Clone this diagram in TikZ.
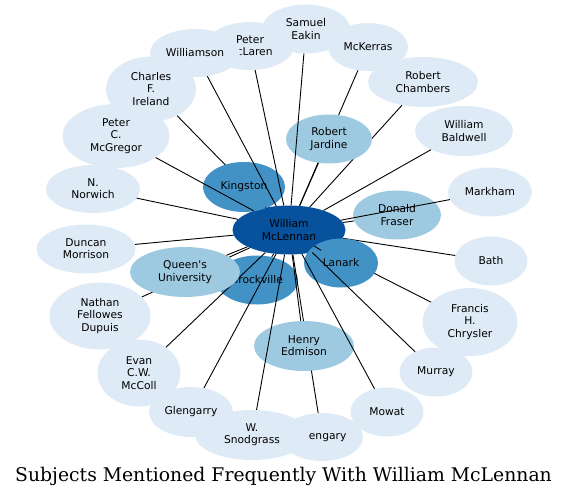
\documentclass[tikz,border=0pt]{standalone}
\usepackage{fontspec}
\usetikzlibrary{shapes.geometric}
\newfontfamily\lblfont{DejaVu Sans}
\newfontfamily\ttlfont{DejaVu Serif}
\definecolor{bdark}{HTML}{08519C}
\definecolor{bmid}{HTML}{4292C6}
\definecolor{blight}{HTML}{9ECAE1}
\definecolor{bpale}{HTML}{DEEBF7}
\tikzset{
  nd/.style={ellipse, inner sep=0pt, align=center, text=black,
    font=\lblfont\fontsize{10.7}{12.3}\selectfont},
  pale/.style={nd, fill=bpale},
  lite/.style={nd, fill=blight},
  mid/.style={nd, fill=bmid},
  hub/.style={nd, fill=bdark},
  sz/.style 2 args={minimum width=#1pt, minimum height=#2pt},
  lnk/.style={draw=black, line width=0.9pt}
}
\begin{document}
\begin{tikzpicture}[x=1pt,y=-1pt]
\useasboundingbox (0,0) rectangle (568,498);
\node[hub, sz={113}{49}] (wm) at (289,230) {William\\McLennan};
\node[pale, sz={73}{49}] (bath) at (491,261) {Bath};
\draw[lnk] (wm) -- (bath);
\node[mid, sz={82}{49}] (brock) at (257,280) {Brockville};
\draw[lnk] (wm) -- (brock);
\node[pale, sz={90}{65}] (charles) at (151,89) {Charles\\F.\\Ireland};
\draw[lnk] (wm) -- (charles);
\node[lite, sz={88}{49}] (donald) at (397,215) {Donald\\Fraser};
\draw[lnk] (wm) -- (donald);
\node[pale, sz={99}{49}] (duncan) at (86,249) {Duncan\\Morrison};
\draw[lnk] (wm) -- (duncan);
\node[pale, sz={83}{67}] (evan) at (139,373) {Evan\\C.W.\\McColl};
\draw[lnk] (wm) -- (evan);
\node[pale, sz={95}{68}] (francis) at (470,322) {Francis\\H.\\Chrysler};
\draw[lnk] (wm) -- (francis);
\node[pale, sz={84}{50}] (glengarry) at (191,412) {Glengarry};
\draw[lnk] (wm) -- (glengarry);
\node[pale, sz={82}{48}] (glengary) at (322,437) {Glengary};
\draw[lnk] (wm) -- (glengary);
\node[lite, sz={100}{50}] (henry) at (304,346) {Henry\\Edmison};
\draw[lnk] (wm) -- (henry);
\node[mid, sz={82}{50}] (kingston) at (244,187) {Kingston};
\draw[lnk] (wm) -- (kingston);
\node[mid, sz={74}{49}] (lanark) at (341,263) {Lanark};
\draw[lnk] (wm) -- (lanark);
\node[pale, sz={84}{49}] (markham) at (490,192) {Markham};
\draw[lnk] (wm) -- (markham);
\node[pale, sz={80}{48}] (mckerras) at (368,47) {McKerras};
\draw[lnk] (wm) -- (mckerras);
\node[pale, sz={73}{49}] (mowat) at (387,412) {Mowat};
\draw[lnk] (wm) -- (mowat);
\node[pale, sz={73}{49}] (murray) at (436,372) {Murray};
\draw[lnk] (wm) -- (murray);
\node[pale, sz={94}{48}] (norwich) at (93,189) {N.\\Norwich};
\draw[lnk] (wm) -- (norwich);
\node[pale, sz={101}{67}] (nathan) at (100,316) {Nathan\\Fellowes\\Dupuis};
\draw[lnk] (wm) -- (nathan);
\node[pale, sz={107}{64}] (mcgregor) at (116,136) {Peter\\C.\\McGregor};
\draw[lnk] (wm) -- (mcgregor);
\node[pale, sz={88}{48}] (mclaren) at (250,46) {Peter\\McLaren};
\draw[lnk] (wm) -- (mclaren);
\node[lite, sz={110}{50}] (queens) at (185,272) {Queen\textquotesingle s\\University};
\draw[lnk] (wm) -- (queens);
\node[pale, sz={110}{50}] (chambers) at (423,82) {Robert\\Chambers};
\draw[lnk] (wm) -- (chambers);
\node[lite, sz={86}{49}] (jardine) at (329,139) {Robert\\Jardine};
\draw[lnk] (wm) -- (jardine);
\node[pale, sz={88}{49}] (eakin) at (306,29) {Samuel\\Eakin};
\draw[lnk] (wm) -- (eakin);
\node[pale, sz={114}{50}] (snodgrass) at (252,435) {W.\\Snodgrass};
\draw[lnk] (wm) -- (snodgrass);
\node[pale, sz={98}{50}] (baldwell) at (464,131) {William\\Baldwell};
\draw[lnk] (wm) -- (baldwell);
\node[pale, sz={90}{48}] (williamson) at (195,53) {Williamson};
\draw[lnk] (wm) -- (williamson);
\node[font=\ttlfont\fontsize{18.8}{22}\selectfont, inner sep=0pt] (title) at (283.5,476) {Subjects Mentioned Frequently With William McLennan};
\end{tikzpicture}
\end{document}
